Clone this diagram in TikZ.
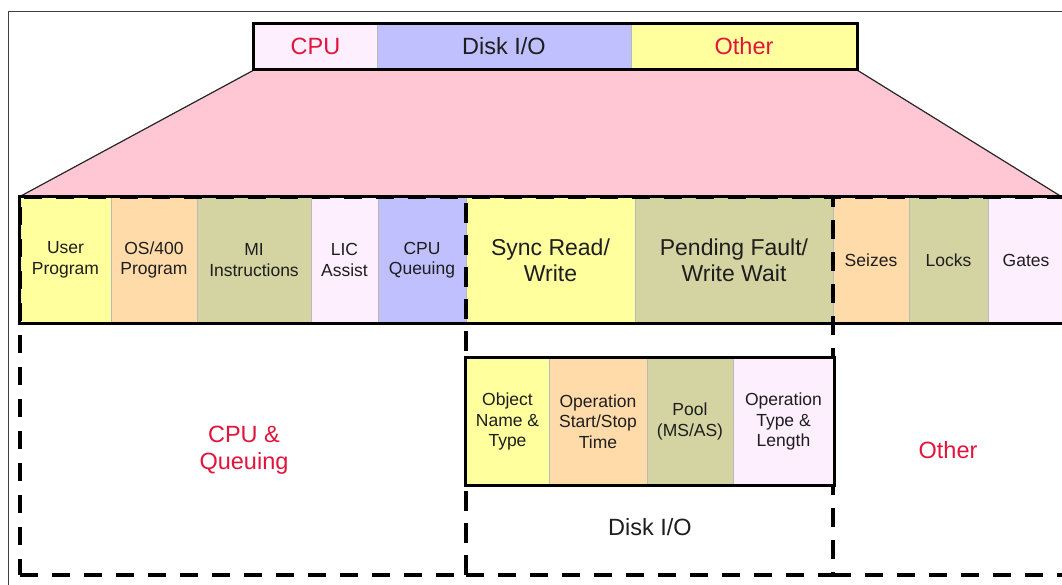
\documentclass[tikz,border=0pt]{standalone}
\usepackage{fontspec}
\setmainfont{Liberation Sans}
\definecolor{cyel}{HTML}{FFFF9E}
\definecolor{cpeach}{HTML}{FFDBAA}
\definecolor{colive}{HTML}{D3D4A2}
\definecolor{clav}{HTML}{FDEFFD}
\definecolor{cblue}{HTML}{C0C0FF}
\definecolor{cpink}{HTML}{FFC7D4}
\definecolor{cred}{HTML}{E2143C}
\definecolor{ctext}{HTML}{1E1E1E}
\newcommand\fsm{\fontsize{17.5}{20.5}\selectfont}
\newcommand\fbg{\fontsize{23}{26}\selectfont}
\newcommand\flg{\fontsize{23.5}{27}\selectfont}
\begin{document}
\begin{tikzpicture}[x=1pt,y=-1pt,
  cell/.style={draw=gray!55, line width=0.8pt, inner sep=0pt, align=center, text=ctext, font=\fsm},
  barcell/.style={cell, minimum height=126},
  topcell/.style={cell, minimum height=46, font=\flg},
  subcell/.style={cell, minimum height=127},
  region/.style={draw=black, line width=3.3pt, dash pattern=on 18pt off 14pt, inner sep=0pt},
  thickline/.style={draw=black, line width=3.3pt},
  label/.style={inner sep=0pt, align=center, font=\flg}
]
\useasboundingbox (0,0) rectangle (1062,585);
\fill[white] (0,0) rectangle (1062,585);
% outer frame
\draw[gray!50!black, line width=1.4pt] (8.5,11.5) rectangle (1075,600);
% trapezoid
\fill[cpink] (254,70) -- (857,70) -- (1062,197) -- (19,197) -- cycle;
\draw[black!85, line width=1.2pt] (254,70) -- (19,197);
\draw[black!85, line width=1.2pt] (857,70) -- (1062,197);
% top bar
\node[topcell, fill=clav, minimum width=123, text=cred] (tcpu) at (315.5,46.5) {CPU};
\node[topcell, fill=cblue, minimum width=254] (tdisk) at (504,46.5) {Disk I/O};
\node[topcell, fill=cyel, minimum width=226, text=cred] (tother) at (744,46.5) {Other};
\draw[thickline, line width=3pt] (tcpu.north west) rectangle (tother.south east);
% main bar
\node[barcell, fill=cyel, minimum width=91] (up) at (65.5,260) {User\\Program};
\node[barcell, fill=cpeach, minimum width=86] (os) at (154,260) {OS/400\\Program};
\node[barcell, fill=colive, minimum width=114] (mi) at (254,260) {MI\\Instructions};
\node[barcell, fill=clav, minimum width=67] (lic) at (344.5,260) {LIC\\Assist};
\node[barcell, fill=cblue, minimum width=88] (cq) at (422,260) {CPU\\Queuing};
\node[barcell, fill=cyel, minimum width=169, font=\fbg] (sync) at (550.5,260) {Sync Read/\\Write};
\node[barcell, fill=colive, minimum width=198, font=\fbg] (pend) at (734,260) {Pending Fault/\\Write Wait};
\node[barcell, fill=cpeach, minimum width=76] (seiz) at (871,260) {Seizes};
\node[barcell, fill=colive, minimum width=79] (lock) at (948.5,260) {Locks};
\node[barcell, fill=clav, minimum width=76] (gate) at (1026,260) {Gates};
% dashed regions
\node[region, minimum width=446, minimum height=378] (rcpu) at (243,386) {};
\node[region, minimum width=367, minimum height=378] (rdisk) at (649.5,386) {};
\node[region, minimum width=231, minimum height=378] (roth) at (948.5,386) {};
% main bar outline
\draw[thickline] (up.north west) rectangle (gate.south east);
% inner disk box
\node[subcell, fill=cyel, minimum width=83] (obj) at (507.5,421.5) {Object\\Name \&\\Type};
\node[subcell, fill=cpeach, minimum width=98] (ost) at (598,421.5) {Operation\\Start/Stop\\Time};
\node[subcell, fill=colive, minimum width=86] (pool) at (690,421.5) {Pool\\(MS/AS)};
\node[subcell, fill=clav, minimum width=101] (otl) at (783.5,421.5) {Operation\\Type \&\\Length};
\draw[thickline] (obj.north west) rectangle (otl.south east);
% region labels
\node[label, text=cred] (lcpu) at (244,450) {CPU \&\\Queuing};
\node[label, text=ctext] (ldisk) at (650,527) {Disk I/O};
\node[label, text=cred] (loth) at (948,450) {Other};
\end{tikzpicture}
\end{document}
